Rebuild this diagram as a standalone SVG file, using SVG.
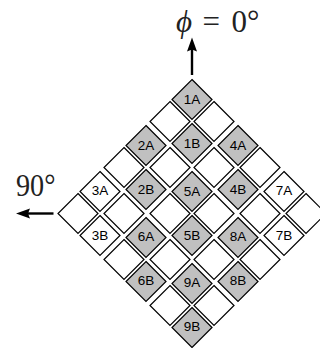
<svg xmlns="http://www.w3.org/2000/svg" width="320" height="348" viewBox="0 0 320 348">
<style>
.g{fill:#c0c0c0;stroke:#000;stroke-width:1.2}
.w{fill:#fff;stroke:#000;stroke-width:1.2}
.t{font:13.5px "Liberation Sans",Arial,sans-serif;fill:#000;text-anchor:middle}
.m{font-family:"Liberation Serif","Times New Roman",serif;font-size:31px;fill:#222}
.c{fill:none;stroke:#000;stroke-width:2.4}
</style>
<defs>
<polygon id="d" points="0,-20 20,0 0,20 -20,0"/>
</defs>
<rect width="320" height="348" fill="#fff"/>
<g id="connectors">
<line class="c" x1="192" y1="75" x2="192" y2="44"/>
<polygon points="192,37.5 197,51.500 192,49.500 187,51.500" fill="#000"/>
<line class="c" x1="53.500" y1="213.500" x2="24" y2="213.500"/>
<polygon points="16,213.500 30,208.500 28,213.500 30,218.500" fill="#000"/>
</g>
<g id="labels">
<text class="m" x="176" y="32"><tspan font-style="italic">ϕ</tspan><tspan x="202.500">=</tspan><tspan x="231.500">0°</tspan></text>
<text class="m" x="16" y="196" textLength="39.500" lengthAdjust="spacingAndGlyphs">90°</text>
</g>
<g id="n1A"><use href="#d" class="g" x="192" y="99.5"/><text class="t" x="192" y="103.700">1A</text></g>
<g id="n1B"><use href="#d" class="g" x="192" y="143.5"/><text class="t" x="192" y="147.500">1B</text></g>
<g id="n2A"><use href="#d" class="g" x="146" y="145.5"/><text class="t" x="146" y="149.800">2A</text></g>
<g id="n2B"><use href="#d" class="g" x="146" y="189.5"/><text class="t" x="146" y="193.700">2B</text></g>
<g id="n4A"><use href="#d" class="g" x="238" y="145.5"/><text class="t" x="238" y="149.800">4A</text></g>
<g id="n4B"><use href="#d" class="g" x="238" y="189.5"/><text class="t" x="238" y="193.700">4B</text></g>
<g id="n5A"><use href="#d" class="g" x="192" y="191.5"/><text class="t" x="192" y="196">5A</text></g>
<g id="n5B"><use href="#d" class="g" x="192" y="235.5"/><text class="t" x="192" y="239.700">5B</text></g>
<g id="n6A"><use href="#d" class="g" x="146" y="237.5"/><text class="t" x="146" y="241">6A</text></g>
<g id="n6B"><use href="#d" class="g" x="146" y="281.5"/><text class="t" x="146" y="285.400">6B</text></g>
<g id="n8A"><use href="#d" class="g" x="238" y="237.5"/><text class="t" x="238" y="241">8A</text></g>
<g id="n8B"><use href="#d" class="g" x="238" y="281.5"/><text class="t" x="238" y="285.400">8B</text></g>
<g id="n9A"><use href="#d" class="g" x="192" y="283.5"/><text class="t" x="192" y="287">9A</text></g>
<g id="n9B"><use href="#d" class="g" x="192" y="327.5"/><text class="t" x="192" y="331.400">9B</text></g>
<g id="n3A"><use href="#d" class="w" x="100" y="191.5"/><text class="t" x="100" y="195.400">3A</text></g>
<g id="n3B"><use href="#d" class="w" x="100" y="235.5"/><text class="t" x="100" y="239.700">3B</text></g>
<g id="n7A"><use href="#d" class="w" x="284" y="191.5"/><text class="t" x="284" y="195.400">7A</text></g>
<g id="n7B"><use href="#d" class="w" x="284" y="235.5"/><text class="t" x="284" y="239.700">7B</text></g>
<g id="blank">
<use href="#d" class="w" x="170" y="121.5"/><use href="#d" class="w" x="214" y="121.5"/>
<use href="#d" class="w" x="124" y="167.5"/><use href="#d" class="w" x="170" y="167.5"/><use href="#d" class="w" x="214" y="167.5"/><use href="#d" class="w" x="260" y="167.5"/>
<use href="#d" class="w" x="78" y="213.5"/><use href="#d" class="w" x="124" y="213.5"/><use href="#d" class="w" x="170" y="213.5"/><use href="#d" class="w" x="214" y="213.5"/><use href="#d" class="w" x="260" y="213.5"/><use href="#d" class="w" x="306" y="213.5"/>
<use href="#d" class="w" x="124" y="259.5"/><use href="#d" class="w" x="170" y="259.5"/><use href="#d" class="w" x="214" y="259.5"/><use href="#d" class="w" x="260" y="259.5"/>
<use href="#d" class="w" x="170" y="305.5"/><use href="#d" class="w" x="214" y="305.5"/>
</g>
</svg>
